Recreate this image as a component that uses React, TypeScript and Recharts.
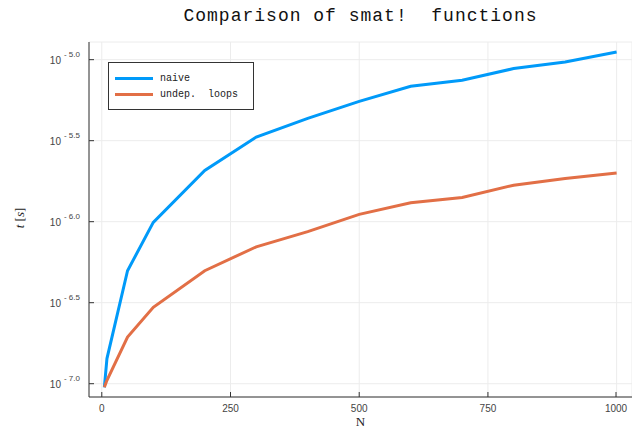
import { LineChart, Line, XAxis, YAxis, CartesianGrid, Legend } from "recharts";

// problem sizes N and timings in seconds
const sizes = [5, 10, 50, 100, 200, 300, 400, 500, 600, 700, 800, 900, 1000];
const naive = [
	9.5e-8, 1.43e-7, 4.98e-7, 9.9e-7, 2.07e-6, 3.33e-6, 4.34e-6, 5.53e-6,
	6.85e-6, 7.46e-6, 8.81e-6, 9.66e-6, 1.114e-5,
];
const undepLoops = [
	9.5e-8, 1.05e-7, 1.94e-7, 2.96e-7, 4.98e-7, 7.0e-7, 8.69e-7, 1.11e-6,
	1.31e-6, 1.41e-6, 1.68e-6, 1.85e-6, 2.0e-6,
];
const xTicks = [0, 250, 500, 750, 1000];
const yTickExponents = [-7.0, -6.5, -6.0, -5.5, -5.0];

const data = sizes.map((n, i) => ({ n, naive: naive[i], undep: undepLoops[i] }));

const BLUE = "#009af9";
const ORANGE = "#e26f46";
const AXIS = "#333";
const MONO = "'Liberation Mono', 'DejaVu Sans Mono', monospace";
const SANS = "'Liberation Sans', Arial, sans-serif";
const SERIF = "'Liberation Serif', 'DejaVu Serif', serif";

function XTick(props: any) {
	const { x, y, payload } = props;
	return (
		<g>
			<line x1={x} y1={y} x2={x} y2={y - 5} stroke={AXIS} strokeWidth={1} />
			<text x={x} y={y + 15} textAnchor="middle" fontSize={10} fontFamily={SANS} fill="#444">
				{payload.value}
			</text>
		</g>
	);
}

function YTick(props: any) {
	const { x, y, payload } = props;
	const exp = Math.log10(payload.value);
	return (
		<g>
			<line x1={x} y1={y} x2={x + 5} y2={y} stroke={AXIS} strokeWidth={1} />
			<text x={x - 9} y={y + 4} textAnchor="end" fontFamily={SANS} fill="#444">
				<tspan fontSize={10}>10</tspan>
				<tspan fontSize={8} dx={3} dy={-7}>
					{"- " + Math.abs(exp).toFixed(1)}
				</tspan>
			</text>
		</g>
	);
}

function LegendBox() {
	const items = [
		{ name: "naive", color: BLUE },
		{ name: "undep.  loops", color: ORANGE },
	];
	return (
		<div
			style={{
				border: "1px solid #333",
				background: "#fff",
				padding: "7px 6px",
				width: 132,
				fontFamily: MONO,
				fontSize: 10,
				color: "#222",
			}}
		>
			{items.map((it) => (
				<div key={it.name} style={{ display: "flex", alignItems: "center", height: 16 }}>
					<span
						style={{ display: "inline-block", width: 38, height: 3, background: it.color, marginRight: 7 }}
					/>
					<span style={{ whiteSpace: "pre" }}>{it.name}</span>
				</div>
			))}
		</div>
	);
}

export default function App() {
	return (
		<div style={{ position: "absolute", left: 0, top: 0, width: 632, height: 430, background: "#fff" }}>
			<div
				style={{
					position: "absolute",
					left: 89,
					width: 543,
					top: 6,
					textAlign: "center",
					fontFamily: MONO,
					fontSize: 18,
					letterSpacing: 1,
					color: "#111",
					whiteSpace: "pre",
				}}
			>
				Comparison of smat!  functions
			</div>
			<div
				style={{
					position: "absolute",
					left: 20,
					top: 218,
					transform: "translate(-50%, -50%) rotate(-90deg)",
					fontFamily: SERIF,
					fontSize: 13,
					color: "#222",
					whiteSpace: "pre",
				}}
			>
				<i>t</i> [<i>s</i>]
			</div>
			<LineChart width={632} height={430} data={data} margin={{ top: 42, right: 0, bottom: 0, left: 0 }}>
				<CartesianGrid stroke="#ececec" strokeWidth={1} />
				<XAxis
					dataKey="n"
					type="number"
					domain={[-24.85, 1029.85]}
					ticks={xTicks}
					allowDataOverflow
					height={33}
					tickSize={0}
					tickMargin={0}
					tickLine={false}
					tick={<XTick />}
					axisLine={{ stroke: AXIS, strokeWidth: 1 }}
					label={{ value: "N", position: "insideBottom", offset: 4, fontFamily: SERIF, fontSize: 13, fill: "#222" }}
				/>
				<YAxis
					type="number"
					scale="log"
					domain={[10 ** -7.082, 10 ** -4.891]}
					ticks={yTickExponents.map((e) => 10 ** e)}
					allowDataOverflow
					width={89}
					tickSize={0}
					tickMargin={0}
					tickLine={false}
					tick={<YTick />}
					axisLine={{ stroke: AXIS, strokeWidth: 1 }}
				/>
				<Legend
					layout="vertical"
					align="center"
					verticalAlign="middle"
					content={<LegendBox />}
					wrapperStyle={{ position: "absolute", left: 108, top: 62, width: "auto", height: "auto" }}
				/>
				<Line dataKey="naive" name="naive" stroke={BLUE} strokeWidth={3} dot={false} isAnimationActive={false} />
				<Line dataKey="undep" name="undep.  loops" stroke={ORANGE} strokeWidth={3} dot={false} isAnimationActive={false} />
			</LineChart>
		</div>
	);
}
